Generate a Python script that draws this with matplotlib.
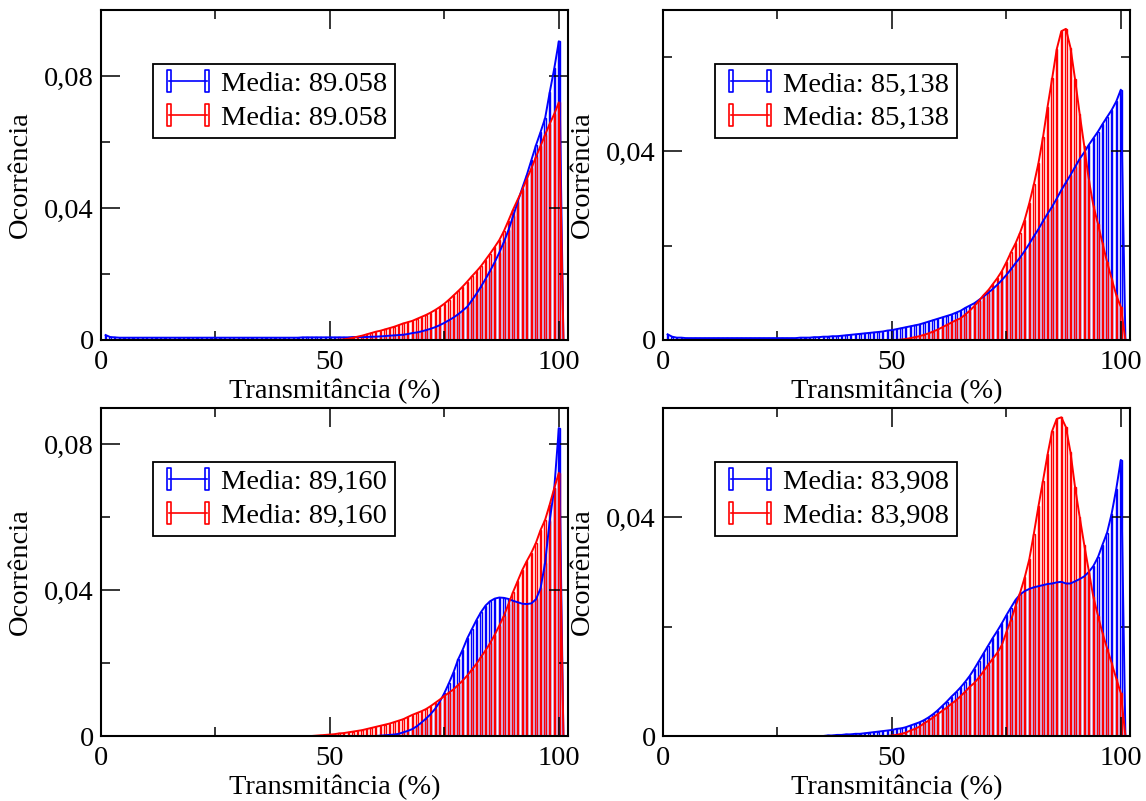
import numpy as np
import matplotlib
matplotlib.use("Agg")
import matplotlib.pyplot as plt
from matplotlib.path import Path
from matplotlib.lines import Line2D
from matplotlib.ticker import FuncFormatter, FixedLocator

# Transmittance bins (%): one bar per integer bin
bins = list(range(1, 102))

# ---- Panel (a) ----
a_blue = [
    0.0015, 0.0009, 0.0008, 0.0007, 0.0007, 0.0007, 0.0007, 0.0007, 0.0007, 0.0007,
    0.0007, 0.0007, 0.0007, 0.0007, 0.0007, 0.0007, 0.0007, 0.0007, 0.0007, 0.0007,
    0.0007, 0.0007, 0.0007, 0.0007, 0.0007, 0.0007, 0.0007, 0.0007, 0.0007, 0.0007,
    0.0007, 0.0007, 0.0007, 0.0007, 0.0007, 0.0007, 0.0007, 0.0007, 0.0007, 0.0007,
    0.0007, 0.0007, 0.0007, 0.0008, 0.0008, 0.0008, 0.0008, 0.0008, 0.0008, 0.0008,
    0.0008, 0.0008, 0.0008, 0.0008, 0.0009, 0.0009, 0.0009, 0.0009, 0.0010, 0.0010,
    0.0011, 0.0012, 0.0013, 0.0014, 0.0015, 0.0016, 0.0018, 0.0021, 0.0023, 0.0026,
    0.0030, 0.0034, 0.0039, 0.0045, 0.0052, 0.0060, 0.0068, 0.0078, 0.0089, 0.0101,
    0.0120, 0.0140, 0.0162, 0.0185, 0.0210, 0.0236, 0.0265, 0.0297, 0.0333, 0.0375,
    0.0418, 0.0460, 0.0500, 0.0545, 0.0590, 0.0630, 0.0672, 0.0750, 0.0823, 0.0905,
    0.0,
]
a_red = [
    0.0, 0.0, 0.0, 0.0, 0.0, 0.0, 0.0, 0.0, 0.0, 0.0,
    0.0, 0.0, 0.0, 0.0, 0.0, 0.0, 0.0, 0.0, 0.0, 0.0,
    0.0, 0.0, 0.0, 0.0, 0.0, 0.0, 0.0, 0.0, 0.0, 0.0,
    0.0, 0.0, 0.0, 0.0, 0.0, 0.0, 0.0, 0.0, 0.0, 0.0,
    0.0, 0.0, 0.0, 0.0, 0.0, 0.0, 0.0, 0.0, 0.0, 0.0,
    0.0, 0.0001, 0.0002, 0.0004, 0.0007, 0.0010, 0.0013, 0.0017, 0.0021, 0.0025,
    0.0028, 0.0032, 0.0036, 0.0040, 0.0045, 0.0050, 0.0054, 0.0058, 0.0064, 0.0070,
    0.0076, 0.0083, 0.0091, 0.0100, 0.0110, 0.0122, 0.0135, 0.0148, 0.0162, 0.0177,
    0.0193, 0.0208, 0.0224, 0.0243, 0.0262, 0.0282, 0.0303, 0.0330, 0.0362, 0.0395,
    0.0425, 0.0455, 0.0488, 0.0520, 0.0555, 0.0588, 0.0622, 0.0655, 0.0685, 0.0720,
    0.0,
]

# ---- Panel (b) ----
b_blue = [
    0.0012, 0.0007, 0.0005, 0.0005, 0.0004, 0.0004, 0.0004, 0.0004, 0.0004, 0.0004,
    0.0004, 0.0004, 0.0004, 0.0004, 0.0004, 0.0004, 0.0004, 0.0004, 0.0004, 0.0004,
    0.0004, 0.0004, 0.0004, 0.0004, 0.0004, 0.0004, 0.0004, 0.0004, 0.0004, 0.0005,
    0.0005, 0.0005, 0.0006, 0.0006, 0.0007, 0.0007, 0.0008, 0.0008, 0.0009, 0.0010,
    0.0011, 0.0012, 0.0013, 0.0014, 0.0015, 0.0016, 0.0017, 0.0018, 0.0020, 0.0021,
    0.0023, 0.0025, 0.0027, 0.0029, 0.0031, 0.0033, 0.0036, 0.0039, 0.0042, 0.0045,
    0.0048, 0.0051, 0.0054, 0.0058, 0.0062, 0.0068, 0.0073, 0.0078, 0.0085, 0.0092,
    0.0100, 0.0108, 0.0117, 0.0127, 0.0138, 0.0150, 0.0163, 0.0175, 0.0189, 0.0204,
    0.0220, 0.0235, 0.0252, 0.0268, 0.0283, 0.0300, 0.0318, 0.0334, 0.0350, 0.0367,
    0.0384, 0.0398, 0.0414, 0.0428, 0.0442, 0.0458, 0.0473, 0.0488, 0.0506, 0.0531,
    0.0,
]
b_red = [
    0.0, 0.0, 0.0, 0.0, 0.0, 0.0, 0.0, 0.0, 0.0, 0.0,
    0.0, 0.0, 0.0, 0.0, 0.0, 0.0, 0.0, 0.0, 0.0, 0.0,
    0.0, 0.0, 0.0, 0.0, 0.0, 0.0, 0.0, 0.0, 0.0, 0.0,
    0.0, 0.0, 0.0, 0.0, 0.0, 0.0, 0.0, 0.0, 0.0, 0.0,
    0.0, 0.0, 0.0, 0.0, 0.0, 0.0, 0.0, 0.0, 0.0, 0.0,
    0.0, 0.0001, 0.0002, 0.0004, 0.0006, 0.0008, 0.0011, 0.0014, 0.0018, 0.0022,
    0.0027, 0.0032, 0.0037, 0.0042, 0.0046, 0.0054, 0.0062, 0.0072, 0.0083, 0.0095,
    0.0105, 0.0118, 0.0131, 0.0146, 0.0165, 0.0186, 0.0205, 0.0228, 0.0255, 0.0290,
    0.0330, 0.0375, 0.0430, 0.0495, 0.0555, 0.0617, 0.0655, 0.0660, 0.0620, 0.0553,
    0.0480, 0.0412, 0.0340, 0.0285, 0.0246, 0.0205, 0.0165, 0.0130, 0.0095, 0.0070,
    0.0,
]

# ---- Panel (c) ----
c_blue = [
    0.0, 0.0, 0.0, 0.0, 0.0, 0.0, 0.0, 0.0, 0.0, 0.0,
    0.0, 0.0, 0.0, 0.0, 0.0, 0.0, 0.0, 0.0, 0.0, 0.0,
    0.0, 0.0, 0.0, 0.0, 0.0, 0.0, 0.0, 0.0, 0.0, 0.0,
    0.0, 0.0, 0.0, 0.0, 0.0, 0.0, 0.0, 0.0, 0.0, 0.0,
    0.0, 0.0, 0.0, 0.0, 0.0, 0.0, 0.0, 0.0, 0.0, 0.0,
    0.0, 0.0, 0.0, 0.0, 0.0, 0.0, 0.0, 0.0, 0.0, 0.0,
    0.0001, 0.0002, 0.0003, 0.0004, 0.0006, 0.0010, 0.0014, 0.0019, 0.0027, 0.0037,
    0.0048, 0.0060, 0.0075, 0.0094, 0.0118, 0.0145, 0.0175, 0.0210, 0.0237, 0.0268,
    0.0293, 0.0318, 0.0340, 0.0358, 0.0370, 0.0377, 0.0380, 0.0379, 0.0376, 0.0371,
    0.0367, 0.0363, 0.0362, 0.0364, 0.0375, 0.0405, 0.0475, 0.0590, 0.0680, 0.0845,
    0.0,
]
c_red = [
    0.0, 0.0, 0.0, 0.0, 0.0, 0.0, 0.0, 0.0, 0.0, 0.0,
    0.0, 0.0, 0.0, 0.0, 0.0, 0.0, 0.0, 0.0, 0.0, 0.0,
    0.0, 0.0, 0.0, 0.0, 0.0, 0.0, 0.0, 0.0, 0.0, 0.0,
    0.0, 0.0, 0.0, 0.0, 0.0, 0.0, 0.0, 0.0, 0.0, 0.0,
    0.0, 0.0, 0.0, 0.0, 0.0, 0.0, 0.0001, 0.0002, 0.0003, 0.0004,
    0.0005, 0.0007, 0.0008, 0.0010, 0.0012, 0.0014, 0.0016, 0.0019, 0.0022, 0.0025,
    0.0028, 0.0031, 0.0034, 0.0038, 0.0042, 0.0046, 0.0052, 0.0058, 0.0063, 0.0068,
    0.0074, 0.0082, 0.0091, 0.0100, 0.0110, 0.0119, 0.0128, 0.0140, 0.0152, 0.0166,
    0.0182, 0.0198, 0.0217, 0.0235, 0.0255, 0.0278, 0.0303, 0.0330, 0.0362, 0.0395,
    0.0425, 0.0455, 0.0480, 0.0503, 0.0530, 0.0565, 0.0593, 0.0635, 0.0680, 0.0722,
    0.0,
]

# ---- Panel (d) ----
d_blue = [
    0.0, 0.0, 0.0, 0.0, 0.0, 0.0, 0.0, 0.0, 0.0, 0.0,
    0.0, 0.0, 0.0, 0.0, 0.0, 0.0, 0.0, 0.0, 0.0, 0.0,
    0.0, 0.0, 0.0, 0.0, 0.0, 0.0, 0.0, 0.0, 0.0, 0.0,
    0.0, 0.0, 0.0, 0.0, 0.0, 0.0001, 0.0001, 0.0002, 0.0002, 0.0003,
    0.0003, 0.0004, 0.0004, 0.0005, 0.0006, 0.0007, 0.0008, 0.0009, 0.0010, 0.0011,
    0.0013, 0.0014, 0.0016, 0.0019, 0.0022, 0.0025, 0.0029, 0.0034, 0.0040, 0.0047,
    0.0055, 0.0063, 0.0072, 0.0080, 0.0089, 0.0099, 0.0110, 0.0123, 0.0137, 0.0151,
    0.0165, 0.0179, 0.0192, 0.0206, 0.0221, 0.0235, 0.0249, 0.0259, 0.0265, 0.0269,
    0.0272, 0.0274, 0.0276, 0.0278, 0.0279, 0.0281, 0.0282, 0.0279, 0.0279, 0.0283,
    0.0287, 0.0292, 0.0300, 0.0311, 0.0327, 0.0350, 0.0372, 0.0407, 0.0452, 0.0505,
    0.0,
]
d_red = [
    0.0, 0.0, 0.0, 0.0, 0.0, 0.0, 0.0, 0.0, 0.0, 0.0,
    0.0, 0.0, 0.0, 0.0, 0.0, 0.0, 0.0, 0.0, 0.0, 0.0,
    0.0, 0.0, 0.0, 0.0, 0.0, 0.0, 0.0, 0.0, 0.0, 0.0,
    0.0, 0.0, 0.0, 0.0, 0.0, 0.0, 0.0, 0.0, 0.0, 0.0,
    0.0, 0.0, 0.0, 0.0, 0.0, 0.0, 0.0, 0.0, 0.0, 0.0001,
    0.0002, 0.0004, 0.0006, 0.0010, 0.0013, 0.0017, 0.0023, 0.0028, 0.0034, 0.0040,
    0.0046, 0.0052, 0.0059, 0.0065, 0.0073, 0.0081, 0.0090, 0.0097, 0.0107, 0.0118,
    0.0130, 0.0141, 0.0152, 0.0166, 0.0190, 0.0212, 0.0237, 0.0262, 0.0290, 0.0323,
    0.0370, 0.0420, 0.0467, 0.0515, 0.0558, 0.0580, 0.0583, 0.0565, 0.0519, 0.0455,
    0.0401, 0.0350, 0.0302, 0.0254, 0.0220, 0.0188, 0.0160, 0.0133, 0.0105, 0.0078,
    0.0,
]

legend_text = ["Media: 89.058", "Media: 85,138", "Media: 89,160", "Media: 83,908"]
y_limits = [0.10, 0.07, 0.09, 0.06]
y_major = [[0, 0.04, 0.08], [0, 0.04], [0, 0.04, 0.08], [0, 0.04]]
y_minor = [[0.02, 0.06], [0.02, 0.06], [0.02, 0.06], [0.02]]
x_major = [0, 50, 100]
x_minor = [25, 75]

plt.rcParams["font.family"] = ["Liberation Serif", "DejaVu Serif"]
plt.rcParams["font.size"] = 20.5

W, H = 1146, 801
fig = plt.figure(figsize=(W / 100, H / 100), dpi=100)


def frac_rect(x0, y0, x1, y1):
    return [x0 / W, 1 - y1 / H, (x1 - x0) / W, (y1 - y0) / H]


rects = [
    frac_rect(101, 10, 568, 340),
    frac_rect(663, 10, 1130, 340),
    frac_rect(101, 408, 568, 736),
    frac_rect(663, 408, 1130, 736),
]
series = [(a_blue, a_red), (b_blue, b_red), (c_blue, c_red), (d_blue, d_red)]

# narrow open bar used as the end caps of the legend keys
bar_marker = Path([(-0.22, -1), (0.22, -1), (0.22, 1), (-0.22, 1), (-0.22, -1)],
                  [Path.MOVETO, Path.LINETO, Path.LINETO, Path.LINETO, Path.CLOSEPOLY])


def tick_fmt(v, pos):
    if abs(v) < 1e-12:
        return "0"
    return f"{v:.2f}".replace(".", ",")


for i, rect in enumerate(rects):
    ax = fig.add_axes(rect)
    blue, red = series[i]
    for vals, col in ((blue, "#0000ff"), (red, "#ff0000")):
        ax.bar(bins, vals, width=0.3, fill=False, edgecolor=col, linewidth=1.0)
        ax.plot(bins, vals, color=col, linewidth=1.4)
    ax.set_xlim(0, 102)
    ax.set_ylim(0, y_limits[i])
    ax.xaxis.set_major_locator(FixedLocator(x_major))
    ax.xaxis.set_minor_locator(FixedLocator(x_minor))
    ax.yaxis.set_major_locator(FixedLocator(y_major[i]))
    ax.yaxis.set_minor_locator(FixedLocator(y_minor[i]))
    ax.yaxis.set_major_formatter(FuncFormatter(tick_fmt))
    ax.tick_params(which="both", direction="in", top=True, right=True, width=1.1)
    ax.tick_params(which="major", length=13.5)
    ax.tick_params(axis="x", which="major", pad=7)
    ax.tick_params(axis="y", which="major", pad=5)
    ax.tick_params(which="minor", length=6.8)
    for sp in ax.spines.values():
        sp.set_linewidth(1.5)
    ax.set_xlabel("Transmitância (%)", labelpad=3)
    ax.set_ylabel("Ocorrência", labelpad=8)

    handles = [
        Line2D([], [], color=c, lw=1.2, marker=bar_marker, markersize=16,
               markerfacecolor="none", markeredgecolor=c, markeredgewidth=1.2)
        for c in ("#0000ff", "#ff0000")
    ]
    leg = ax.legend(handles, [legend_text[i]] * 2, loc="upper left",
                    bbox_to_anchor=(0.111, 0.836), borderaxespad=0, numpoints=2,
                    handlelength=1.95, handletextpad=0.2, borderpad=0.26,
                    labelspacing=0.27, fancybox=False, framealpha=1,
                    edgecolor="black")
    leg.get_frame().set_linewidth(1.3)

fig.savefig("out.png", dpi=100)
